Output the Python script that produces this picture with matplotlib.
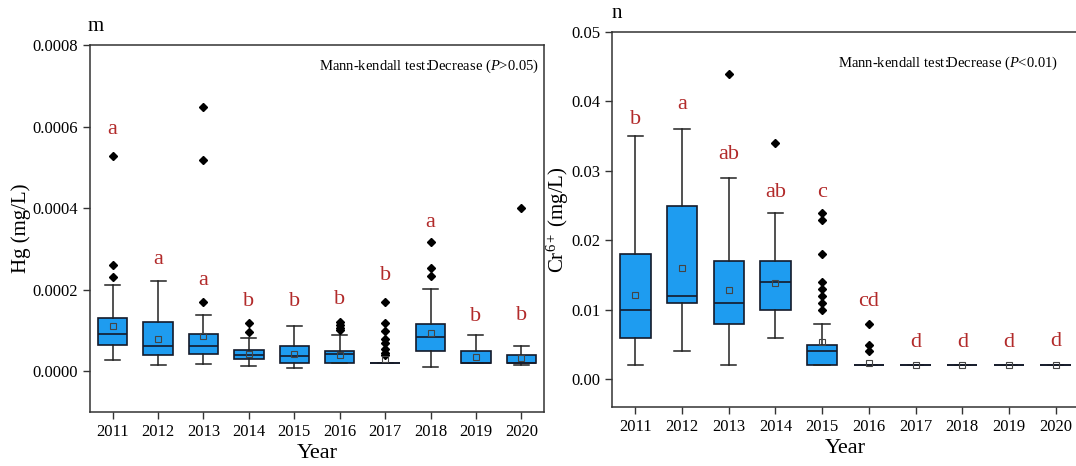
import numpy as np
import matplotlib.pyplot as plt

plt.rcParams['font.family'] = ['Liberation Serif', 'DejaVu Serif']
plt.rcParams['mathtext.fontset'] = 'custom'
plt.rcParams['mathtext.rm'] = 'Liberation Serif'
plt.rcParams['mathtext.it'] = 'Liberation Serif:italic'

years = ['2011', '2012', '2013', '2014', '2015', '2016', '2017', '2018', '2019', '2020']

# Hg (mg/L) box statistics
hg_whislo = [0.000028, 0.000016, 0.000018, 0.000012, 0.000009, 0.000020, 0.000020, 0.000010, 0.000020, 0.000015]
hg_q1 = [0.000064, 0.000039, 0.000043, 0.000030, 0.000020, 0.000020, 0.000020, 0.000050, 0.000020, 0.000020]
hg_med = [0.000092, 0.000063, 0.000063, 0.000039, 0.000038, 0.000041, 0.000020, 0.000084, 0.000020, 0.000020]
hg_q3 = [0.000130, 0.000120, 0.000091, 0.000052, 0.000061, 0.000050, 0.000020, 0.000116, 0.000049, 0.000040]
hg_whishi = [0.000211, 0.000220, 0.000139, 0.000082, 0.000110, 0.000090, 0.000020, 0.000201, 0.000089, 0.000061]
hg_mean = [0.000112, 0.000080, 0.000086, 0.000042, 0.000042, 0.000039, 0.000029, 0.000093, 0.000035, 0.000032]
hg_fliers = [
    [0.000260, 0.000230, 0.000528],
    [],
    [0.000169, 0.000519, 0.000648],
    [0.000119, 0.000097],
    [],
    [0.000121, 0.000114, 0.000107, 0.000101],
    [0.000169, 0.000119, 0.000098, 0.000080, 0.000070, 0.000055, 0.000045, 0.000039],
    [0.000316, 0.000252, 0.000233],
    [],
    [0.000399],
]
hg_letters = ['a', 'a', 'a', 'b', 'b', 'b', 'b', 'a', 'b', 'b']
hg_letter_y = [0.000592, 0.000275, 0.000223, 0.000170, 0.000172, 0.000176, 0.000234, 0.000365, 0.000135, 0.000137]

# Cr6+ (mg/L) box statistics
cr_whislo = [0.002, 0.004, 0.002, 0.006, 0.002, 0.002, 0.002, 0.002, 0.002, 0.002]
cr_q1 = [0.006, 0.011, 0.008, 0.010, 0.002, 0.002, 0.002, 0.002, 0.002, 0.002]
cr_med = [0.010, 0.012, 0.011, 0.014, 0.004, 0.002, 0.002, 0.002, 0.002, 0.002]
cr_q3 = [0.018, 0.025, 0.017, 0.017, 0.005, 0.002, 0.002, 0.002, 0.002, 0.002]
cr_whishi = [0.035, 0.036, 0.029, 0.024, 0.008, 0.002, 0.002, 0.002, 0.002, 0.002]
cr_mean = [0.0122, 0.0160, 0.0128, 0.0138, 0.0054, 0.0023, 0.0020, 0.0020, 0.0020, 0.0020]
cr_fliers = [
    [],
    [],
    [0.044],
    [0.034],
    [0.024, 0.023, 0.018, 0.014, 0.013, 0.012, 0.011, 0.010],
    [0.008, 0.005, 0.004],
    [], [], [], [],
]
cr_letters = ['b', 'a', 'ab', 'ab', 'c', 'cd', 'd', 'd', 'd', 'd']
cr_letter_y = [0.0374, 0.0395, 0.0323, 0.0269, 0.0269, 0.0112, 0.0053, 0.0053, 0.0053, 0.0055]

BOX_COLOR = '#1e9cf0'
LETTER_COLOR = '#b22a2a'


def draw_panel(ax, whislo, q1, med, q3, whishi, mean, fliers, letters, letter_y):
    stats = []
    for i in range(len(years)):
        stats.append(dict(whislo=whislo[i], q1=q1[i], med=med[i], q3=q3[i],
                          whishi=whishi[i], mean=mean[i], fliers=fliers[i]))
    pos = np.arange(1, len(years) + 1)
    ax.bxp(stats, positions=pos, widths=0.65, capwidths=0.33, patch_artist=True,
           showmeans=True, showfliers=True,
           boxprops=dict(facecolor=BOX_COLOR, edgecolor='#141a2a', linewidth=1.2),
           medianprops=dict(color='#141a2a', linewidth=1.2),
           whiskerprops=dict(color='#222222', linewidth=1.1),
           capprops=dict(color='#222222', linewidth=1.1),
           meanprops=dict(marker='s', markerfacecolor='none', markeredgecolor='#444444',
                          markersize=4, markeredgewidth=0.8),
           flierprops=dict(marker='D', markerfacecolor='black', markeredgecolor='black',
                           markersize=3.8))
    for x, t, y in zip(pos, letters, letter_y):
        ax.text(x, y, t, color=LETTER_COLOR, fontsize=16, ha='center', va='center')
    ax.set_xticks(pos)
    ax.set_xticklabels(years)
    ax.set_xlim(0.5, 10.5)
    ax.set_xlabel('Year', fontsize=16, labelpad=3)
    ax.tick_params(direction='out', length=5, width=1, labelsize=12, color='#333333')
    for s in ax.spines.values():
        s.set_color('#333333')
        s.set_linewidth(1.1)


fig = plt.figure(figsize=(10.76, 4.66), dpi=100)

ax1 = fig.add_axes([0.0836, 0.1159, 0.422, 0.7876])
draw_panel(ax1, hg_whislo, hg_q1, hg_med, hg_q3, hg_whishi, hg_mean, hg_fliers, hg_letters, hg_letter_y)
ax1.set_ylim(-0.0001, 0.0008)
ax1.set_yticks([0.0, 0.0002, 0.0004, 0.0006, 0.0008])
ax1.set_yticklabels(['0.0000', '0.0002', '0.0004', '0.0006', '0.0008'])
ax1.set_ylabel('Hg (mg/L)', fontsize=15, labelpad=1)
ax1.text(0.99, 0.965, r'Mann-kendall test:Decrease ($\mathit{P}$>0.05)', transform=ax1.transAxes,
         ha='right', va='top', fontsize=10.5)
ax1.text(-0.005, 1.025, 'm', transform=ax1.transAxes, fontsize=15, ha='left', va='bottom')

ax2 = fig.add_axes([0.5688, 0.1266, 0.434, 0.8047])
draw_panel(ax2, cr_whislo, cr_q1, cr_med, cr_q3, cr_whishi, cr_mean, cr_fliers, cr_letters, cr_letter_y)
ax2.set_ylim(-0.004, 0.05)
ax2.set_yticks([0.0, 0.01, 0.02, 0.03, 0.04, 0.05])
ax2.set_yticklabels(['0.00', '0.01', '0.02', '0.03', '0.04', '0.05'])
ax2.set_ylabel(r'Cr$^{6+}$ (mg/L)', fontsize=15, labelpad=0)
ax2.text(0.955, 0.94, r'Mann-kendall test:Decrease ($\mathit{P}$<0.01)', transform=ax2.transAxes,
         ha='right', va='top', fontsize=10.5)
ax2.text(0.0, 1.025, 'n', transform=ax2.transAxes, fontsize=15, ha='left', va='bottom')

fig.savefig('out.png', dpi=100)
